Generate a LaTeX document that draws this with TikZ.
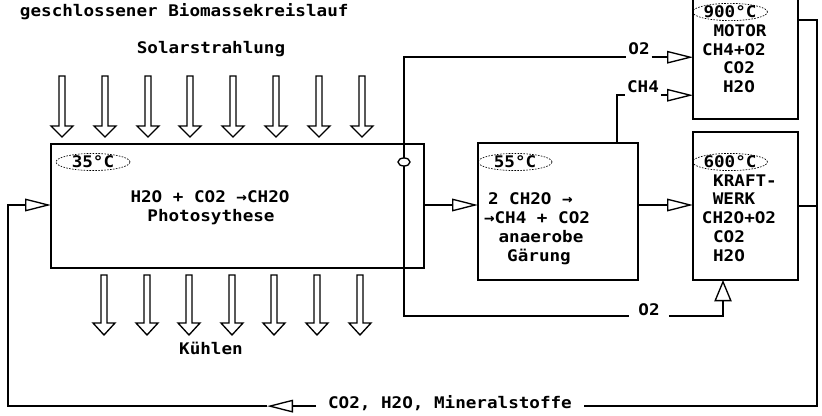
\documentclass[tikz,border=0pt]{standalone}
\usepackage{fontspec}
\newfontfamily\df[FakeStretch=1.1]{DejaVu Sans Mono}
\usetikzlibrary{arrows.meta,shapes.geometric}
\begin{document}
\begin{tikzpicture}[x=0.75pt,y=-0.75pt,
  every node/.style={font=\df\bfseries\fontsize{12}{14}\selectfont, inner sep=0pt, outer sep=0pt},
  box/.style={draw, line width=1.3pt, rectangle, anchor=north west},
  temp/.style={draw, ellipse, dash pattern=on 1.2pt off 1pt, line width=0.5pt, minimum width=55.5pt, minimum height=12.75pt},
  conn/.style={line width=1.1pt},
  tri/.style={conn, -{Triangle[open, length=19.5pt, width=9.5pt, line width=1pt]}},
  triup/.style={conn, -{Triangle[open, length=16pt, width=13pt, line width=1pt]}},
  lbl/.style={anchor=base},
  block/.style={draw, line width=1pt, fill=white, line join=miter},
]
\useasboundingbox (0,0) rectangle (822,416);

% boxes
\node[box, minimum width=279.75pt, minimum height=93pt] (photo) at (51,144) {};
\node[box, minimum width=120pt, minimum height=102.75pt] (gaer) at (478,143) {};
\node[box, minimum width=78.75pt, minimum height=91.5pt] (motor) at (693,-3) {};
\node[box, minimum width=78.75pt, minimum height=111pt] (kraft) at (693,132) {};

% titles
\node[anchor=base west] (title) at (20,17) {geschlossener Biomassekreislauf};
\node[lbl] (solar) at (211,54) {Solarstrahlung};
\node[lbl] (kuehl) at (211,355) {Kühlen};

% solar arrows
\foreach \x in {62,105,148,190,233,276,319,362}
  \draw[block] (\x-3,76) -- (\x+3,76) -- (\x+3,126) -- (\x+11,126) -- (\x,137) -- (\x-11,126) -- (\x-3,126) -- cycle;
% cooling arrows
\foreach \x in {104,147,189,232,274,317,360}
  \draw[block] (\x-3,275) -- (\x+3,275) -- (\x+3,323) -- (\x+11,323) -- (\x,335) -- (\x-11,323) -- (\x-3,323) -- cycle;

% temperatures
\node[temp] (e35) at (93,162) {35°C};
\node[temp] (e55) at (515,162) {55°C};
\node[temp] (e600) at (730,162) {600°C};
\node[temp] (e900) at (730,12) {900°C};

% box texts
\node[lbl] (ph1) at (210,203) {H2O + CO2 →CH2O};
\node[lbl] (ph2) at (211,222) {Photosythese};

\node[anchor=base west] (g1) at (488,205) {2 CH2O →};
\node[anchor=base west] (g2) at (484,224) {→CH4 + CO2};
\node[lbl] (g3) at (541,243) {anaerobe};
\node[lbl] (g4) at (539,262) {Gärung};

\node[lbl] (m1) at (740,37) {MOTOR};
\node[lbl] (m2) at (734,56) {CH4+O2};
\node[lbl] (m3) at (739,74) {CO2};
\node[lbl] (m4) at (739,93) {H2O};

\node[lbl] (k1) at (745,187) {KRAFT-};
\node[lbl] (k2) at (734,205) {WERK};
\node[lbl] (k3) at (739,224) {CH2O+O2};
\node[lbl] (k4) at (729,243) {CO2};
\node[lbl] (k5) at (729,262) {H2O};

% connector labels
\node[anchor=base, inner xsep=1.5pt, inner ysep=1.5pt] (o2a) at (639,55) {O2};
\node[anchor=base, inner xsep=1.5pt, inner ysep=1.5pt] (ch4) at (643,93) {CH4};
\node[anchor=base, inner xsep=7pt] (o2b) at (649,316) {O2};
\node[anchor=base, inner xsep=9pt] (mlab) at (450,409) {CO2, H2O, Mineralstoffe};

% O2 tap
\node[draw, ellipse, fill=white, line width=1pt, minimum width=9pt, minimum height=6pt] (o2c) at (404,162) {};

% connectors
\draw[tri] (photo.east |- 0,205) -- (gaer.west |- 0,205);
\draw[tri] (gaer.east |- 0,205) -- (kraft.west |- 0,205);
\draw[conn] (o2c) |- (o2a.south west);
\draw[tri] (o2a.south east) -- (o2a.south east -| motor.west);
\draw[conn] (gaer.north -| 617,0) |- (ch4.south west);
\draw[tri] (ch4.south east) -- (ch4.south east -| motor.west);
\draw[conn] (o2c) |- (o2b.base west);
\draw[triup] (o2b.base east) -| (kraft.south -| 723,0);
\draw[conn] (motor.east |- 0,20) -| (mlab.mid east -| 817,0) -- (mlab.mid east);
\draw[conn] (kraft.east) -- (kraft.east -| 817,0);
\draw[tri] (mlab.mid west) -- (mlab.mid west -| 267,0) coordinate (rt);
\draw[tri] (rt) -| (8,205) -- (photo.west |- 0,205);
\end{tikzpicture}
\end{document}
